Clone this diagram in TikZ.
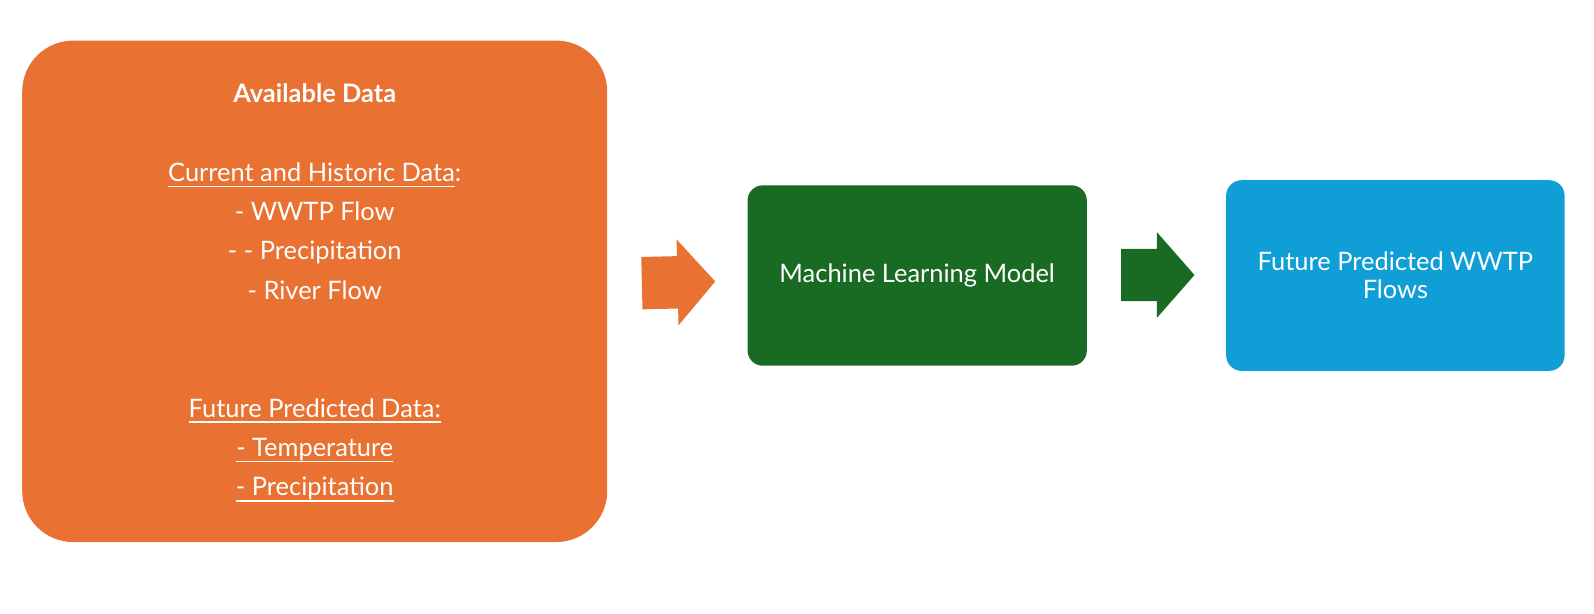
\documentclass[tikz,border=0pt]{standalone}
\usepackage{fontspec}
\setmainfont{Lato}
\usetikzlibrary{shapes.arrows}
\definecolor{dataorange}{HTML}{E97132}
\definecolor{modelgreen}{HTML}{196B24}
\definecolor{flowblue}{HTML}{0F9ED5}
\newcommand{\ulined}[1]{\underline{\smash{#1}}}
\tikzset{
  box/.style={rounded corners=0.15cm, inner sep=0pt, text=white, align=center,
    font=\fontsize{7.1}{10.98}\selectfont},
  blockarrow/.style={single arrow, anchor=tail, inner xsep=0pt, inner ysep=0.25cm,
    single arrow head extend=0.165cm, single arrow tip angle=97.5}
}
\begin{document}
\begin{tikzpicture}[x=0.01cm,y=-0.01cm]
\useasboundingbox (0,0) rectangle (1565,602);
\node[box, fill=dataorange, rounded corners=0.5cm, minimum width=5.74cm, minimum height=4.92cm] (data) at (309,286) {};
\node[box] (datatext) at (309,288)
  {\textbf{Available Data}\\ \\
   \ulined{Current and Historic Data}:\\
   - WWTP Flow\\
   - - Precipitation\\
   - River Flow\\ \\ \\
   \ulined{Future Predicted Data:}\\
   \ulined{- Temperature}\\
   \ulined{- Precipitation}};
\node[box, fill=modelgreen, minimum width=3.33cm, minimum height=1.77cm] (model) at (900.5,270.5)
  {Machine Learning Model};
\node[box, fill=flowblue, minimum width=3.32cm, minimum height=1.87cm,
  font=\fontsize{7.1}{7.7}\selectfont] (flows) at (1370,270.5)
  {Future Predicted WWTP\\Flows};

\node[blockarrow, fill=dataorange, minimum height=0.72cm, rotate=1.3] (toModel) at (629.5,278) {};
\node[blockarrow, fill=modelgreen, minimum height=0.72cm] (toFlows) at (1100,270) {};
\end{tikzpicture}
\end{document}
